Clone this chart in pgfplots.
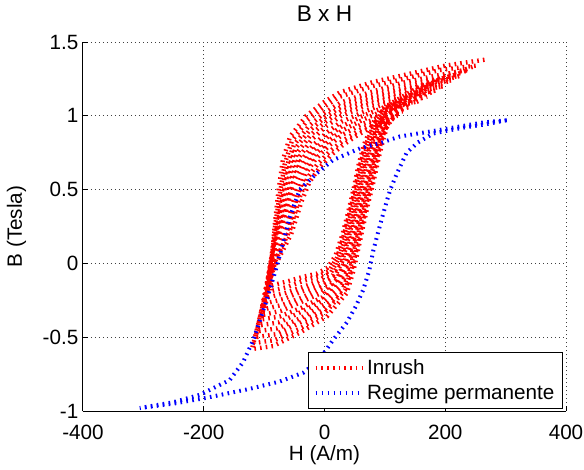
\documentclass[border=0pt]{standalone}
\usepackage{fontspec}
\setmainfont{Liberation Sans}
\usepackage{pgfplots}
\pgfplotsset{compat=1.18}
\begin{document}
\begin{tikzpicture}
\useasboundingbox (-62.25pt,-43.5pt) rectangle (375.75pt,308.25pt);
\begin{axis}[
  at={(0,0)}, anchor=south west,
  scale only axis, width=362.25pt, height=276.75pt,
  xmin=-400, xmax=400, ymin=-1, ymax=1.5,
  xtick={-400,-200,0,200,400}, xticklabels={-400,-200,0,200,400},
  ytick={-1,-0.5,0,0.5,1,1.5}, yticklabels={-1,-0.5,0,0.5,1,1.5},
  axis x line*=bottom, axis y line*=left,
  axis line style={line width=0.75pt, black},
  tick align=inside, major tick length=4pt,
  tick style={line width=0.75pt, black},
  grid=major, grid style={line width=0.75pt, black!75, dash pattern=on 0.75pt off 2.25pt},
  font=\fontsize{15.5}{18.6}\selectfont,
  /pgf/number format/assume math mode=true,
  xticklabel style={anchor=base, yshift=-21pt},
  yticklabel style={anchor=east},
  title={B x H},
  title style={at={(axis description cs:0.5,1.034)}, anchor=base, font=\fontsize{17}{20}\selectfont},
  xlabel={H (A/m)},
  xlabel style={at={(axis description cs:0.5,-0.133)}, anchor=base},
  ylabel={B (Tesla)},
  ylabel style={at={(axis description cs:-0.1265,0.5)}, anchor=base, rotate=0},
  legend image code/.code={\draw[#1] (0pt,0pt) -- (35pt,0pt);},
  legend style={at={(axis description cs:1,0)}, anchor=south east, xshift=-2.25pt, yshift=1.5pt,
    draw=black, line width=0.75pt, fill=white, inner xsep=4pt, inner ysep=3pt,
    row sep=2.5pt, cells={anchor=west}, font=\fontsize{15.5}{18.6}\selectfont},
]
\addplot[red, line width=3.3pt, line join=bevel, dash pattern=on 1.2pt off 3.1pt] coordinates {
(265,1.38) (200,1.34) (136,1.28) (81,1.23) (26,1.16) (-2,1.09) (-30,1.00) (-57,0.86) (-69,0.70) (-76,0.50) (-82,0.28) (-86,0.08) (-88,-0.15) (-60,-0.12) (-35,-0.09) (-13,-0.07) (5,-0.03) (18,0.05) (30,0.20) (40,0.36) (48,0.50) (56,0.66) (65,0.80) (80,0.95) (100,1.06) (150,1.18) (200,1.28) (230,1.31)
(251,1.34) (191,1.31) (131,1.25) (79,1.20) (26,1.13) (-1,1.06) (-28,0.97) (-54,0.83) (-66,0.67) (-74,0.47) (-82,0.25) (-87,0.05) (-91,-0.19) (-62,-0.16) (-36,-0.12) (-11,-0.09) (8,-0.05) (21,0.04) (32,0.19) (42,0.35) (50,0.49) (58,0.65) (67,0.79) (82,0.94) (100,1.05) (146,1.16) (192,1.25) (218,1.28)
(238,1.31) (182,1.27) (126,1.22) (76,1.16) (27,1.09) (0,1.02) (-26,0.93) (-51,0.80) (-63,0.65) (-72,0.45) (-82,0.23) (-89,0.01) (-94,-0.23) (-65,-0.20) (-36,-0.16) (-10,-0.12) (11,-0.06) (23,0.03) (35,0.18) (44,0.34) (52,0.48) (61,0.64) (70,0.79) (83,0.93) (101,1.04) (143,1.14) (184,1.23) (206,1.25)
(224,1.27) (173,1.24) (121,1.18) (74,1.13) (27,1.06) (1,0.99) (-25,0.90) (-48,0.78) (-61,0.62) (-70,0.42) (-81,0.20) (-90,-0.02) (-97,-0.27) (-67,-0.24) (-37,-0.19) (-8,-0.15) (14,-0.08) (26,0.02) (37,0.17) (47,0.33) (55,0.47) (63,0.63) (72,0.78) (85,0.92) (101,1.02) (139,1.12) (176,1.20) (194,1.22)
(210,1.24) (164,1.21) (116,1.15) (72,1.10) (27,1.03) (2,0.96) (-23,0.87) (-45,0.75) (-58,0.60) (-68,0.39) (-81,0.18) (-92,-0.05) (-100,-0.31) (-69,-0.28) (-37,-0.23) (-7,-0.17) (17,-0.09) (29,0.01) (39,0.16) (49,0.32) (57,0.46) (65,0.62) (74,0.77) (87,0.91) (101,1.01) (135,1.10) (168,1.17) (183,1.19)
(197,1.20) (155,1.17) (111,1.12) (69,1.07) (28,1.00) (3,0.93) (-21,0.84) (-42,0.72) (-55,0.57) (-66,0.36) (-81,0.15) (-93,-0.08) (-103,-0.35) (-71,-0.32) (-38,-0.26) (-5,-0.20) (20,-0.11) (32,0.00) (42,0.15) (51,0.31) (59,0.45) (67,0.61) (76,0.76) (88,0.90) (102,1.00) (131,1.08) (160,1.14) (172,1.15)
(183,1.17) (145,1.14) (105,1.09) (67,1.03) (28,0.96) (5,0.89) (-19,0.80) (-40,0.69) (-52,0.55) (-65,0.34) (-81,0.13) (-95,-0.12) (-105,-0.38) (-74,-0.36) (-38,-0.30) (-4,-0.23) (22,-0.12) (34,-0.01) (44,0.15) (53,0.30) (61,0.45) (70,0.60) (79,0.76) (90,0.90) (102,0.99) (128,1.06) (152,1.12) (161,1.12)
(170,1.13) (136,1.10) (100,1.06) (64,1.00) (29,0.93) (6,0.86) (-17,0.77) (-37,0.66) (-49,0.52) (-63,0.31) (-81,0.10) (-96,-0.15) (-108,-0.42) (-76,-0.40) (-39,-0.33) (-2,-0.25) (25,-0.14) (37,-0.01) (47,0.14) (55,0.29) (63,0.44) (72,0.59) (81,0.75) (91,0.89) (103,0.98) (124,1.04) (144,1.09) (150,1.09)
(156,1.10) (127,1.07) (95,1.03) (62,0.97) (29,0.90) (7,0.83) (-15,0.74) (-34,0.63) (-46,0.50) (-61,0.28) (-81,0.08) (-98,-0.18) (-111,-0.46) (-78,-0.44) (-39,-0.37) (-1,-0.28) (28,-0.15) (40,-0.02) (49,0.13) (57,0.28) (65,0.43) (74,0.58) (83,0.74) (93,0.88) (103,0.97) (120,1.02) (136,1.06) (139,1.06)
(142,1.06) (118,1.04) (90,0.99) (60,0.94) (29,0.87) (8,0.80) (-14,0.71) (-31,0.61) (-44,0.47) (-59,0.25) (-80,0.05) (-99,-0.21) (-114,-0.50) (-80,-0.48) (-40,-0.40) (1,-0.31) (31,-0.17) (43,-0.03) (51,0.12) (60,0.27) (68,0.42) (76,0.57) (85,0.73) (95,0.87) (103,0.95) (116,1.00) (128,1.03)
(129,1.03) (109,1.00) (85,0.96) (57,0.90) (30,0.83) (9,0.76) (-12,0.67) (-28,0.58) (-41,0.45) (-57,0.23) (-80,0.03) (-100,-0.25) (-117,-0.54) (-83,-0.52) (-40,-0.44) (2,-0.33) (34,-0.18) (45,-0.04) (54,0.11) (62,0.26) (70,0.41) (79,0.56) (88,0.73) (96,0.86) (104,0.94) (113,0.98) (120,1.00)
(115,0.99) (100,0.97) (80,0.93) (55,0.87) (30,0.80) (10,0.73) (-10,0.64) (-25,0.55) (-38,0.42) (-55,0.20) (-80,0.00) (-102,-0.28) (-120,-0.58) (-85,-0.56) (-41,-0.47) (4,-0.36) (37,-0.20) (48,-0.05) (56,0.10) (64,0.25) (72,0.40) (81,0.55) (90,0.72) (98,0.85) (104,0.93) (109,0.96) (112,0.98) (115,0.99)
};
\addlegendentry{Inrush}
\addplot[blue, line width=3pt, line join=bevel, dash pattern=on 1.2pt off 3.3pt] coordinates {
(302,0.97) (263,0.955) (192,0.905) (125,0.86) (92,0.815) (59,0.78) (14,0.70) (-13,0.61) (-41,0.50) (-57,0.32) (-79,-0.02) (-96,-0.25) (-118,-0.52) (-135,-0.67) (-157,-0.79) (-206,-0.89) (-250,-0.94) (-306,-0.98)
(-250,-0.95) (-195,-0.91) (-124,-0.85) (-74,-0.80) (-35,-0.74) (-10,-0.66) (14,-0.52) (37,-0.40) (52,-0.29) (64,-0.18) (74,-0.05) (81,0.09) (92,0.26) (103,0.42) (109,0.50) (120,0.61) (136,0.75) (155,0.82) (180,0.88) (230,0.92) (263,0.94) (302,0.97)
};
\addlegendentry{Regime permanente}
\end{axis}
\end{tikzpicture}
\end{document}
